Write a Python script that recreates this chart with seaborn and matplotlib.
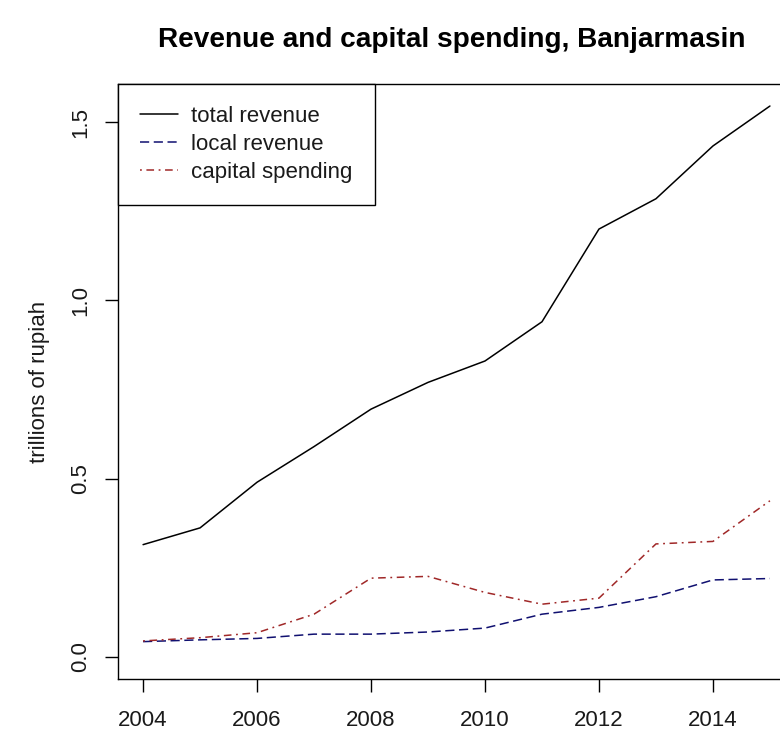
import matplotlib
matplotlib.use("Agg")
import matplotlib.pyplot as plt
import seaborn as sns
import pandas as pd

# Annual city budget figures, trillions of rupiah
years = [2004, 2005, 2006, 2007, 2008, 2009, 2010, 2011, 2012, 2013, 2014, 2015]
total_revenue = [0.315, 0.362, 0.49, 0.59, 0.695, 0.77, 0.83, 0.94, 1.20, 1.285, 1.433, 1.545]
local_revenue = [0.043, 0.048, 0.052, 0.064, 0.064, 0.070, 0.081, 0.120, 0.139, 0.169, 0.216, 0.220]
capital_spending = [0.045, 0.054, 0.068, 0.120, 0.221, 0.226, 0.181, 0.148, 0.165, 0.317, 0.324, 0.438]

x_ticks = [2004, 2006, 2008, 2010, 2012, 2014]
y_ticks = [0.0, 0.5, 1.0, 1.5]
y_tick_labels = ["0.0", "0.5", "1.0", "1.5"]

df = pd.DataFrame({
    "year": years,
    "total revenue": total_revenue,
    "local revenue": local_revenue,
    "capital spending": capital_spending,
})

sns.set_style("white")
plt.rcParams["font.family"] = ["Liberation Sans", "DejaVu Sans"]
plt.rcParams["font.size"] = 16
plt.rcParams["text.color"] = "black"

fig = plt.figure(figsize=(7.8, 7.33), dpi=100)
# axes box runs slightly past the right edge of the canvas
ax = fig.add_axes([118 / 780, 1 - 679 / 733, 677 / 780, 595 / 733])

series = [
    ("total revenue", "black", "-"),
    ("local revenue", "#101070", (0, (6, 3))),
    ("capital spending", "#a02828", (0, (1.2, 3, 5, 3))),
]
for name, color, ls in series:
    sns.lineplot(data=df, x="year", y=name, ax=ax, color=color,
                 linestyle=ls, linewidth=1.1, label=name)

ymax = max(total_revenue)
ax.set_ylim(-0.04 * ymax, 1.04 * ymax)
ax.set_xlim(2004 - 0.04 * 11, 2015 + 0.04 * 11)

ax.set_xticks(x_ticks)
ax.set_xticklabels([str(t) for t in x_ticks])
ax.set_yticks(y_ticks)
ax.set_yticklabels(y_tick_labels, rotation=90, va="center")
ax.tick_params(axis="both", direction="out", length=9.4, width=1.0,
               color="black", labelsize=16, labelcolor="#1a1a1a")
ax.tick_params(axis="x", bottom=True, pad=13)
ax.tick_params(axis="y", left=True, pad=10)

for sp in ax.spines.values():
    sp.set_visible(True)
    sp.set_color("black")
    sp.set_linewidth(1.0)

ax.set_xlabel("")
ax.set_ylabel("trillions of rupiah", fontsize=16, color="#1a1a1a")
ax.yaxis.set_label_coords(-0.10, 0.5)
ax.grid(False)

leg = ax.legend(loc="upper left", bbox_to_anchor=(0, 1), borderaxespad=0,
                fancybox=False, framealpha=1, edgecolor="black",
                fontsize=16, handlelength=1.7, handletextpad=0.6,
                labelspacing=0.3, borderpad=1.0)
leg.get_frame().set_linewidth(1.0)
for t in leg.get_texts():
    t.set_color("#1a1a1a")

fig.text(452 / 780, 1 - 40 / 733, "Revenue and capital spending, Banjarmasin",
         ha="center", va="center", fontsize=20.2, fontweight="bold",
         color="black")

fig.savefig("out.png", dpi=100)
